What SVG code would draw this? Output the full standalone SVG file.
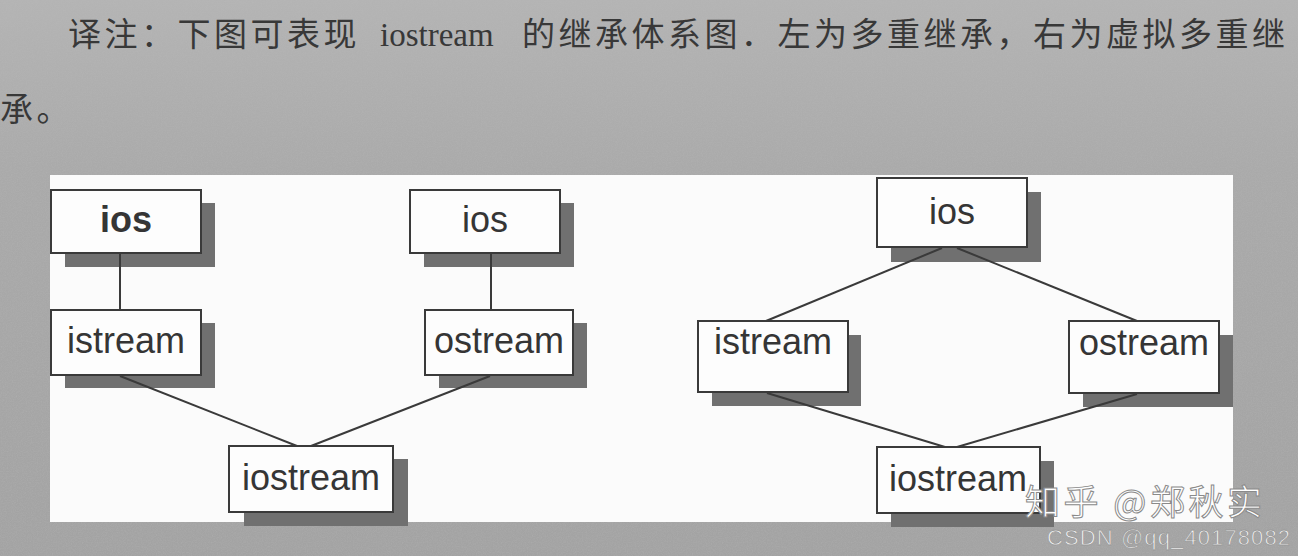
<svg xmlns="http://www.w3.org/2000/svg" width="1298" height="556" viewBox="0 0 1298 556">
  <defs>
    <linearGradient id="bg" x1="0" y1="0" x2="0" y2="1">
      <stop offset="0" stop-color="#b4b4b4"/>
      <stop offset="0.3" stop-color="#aaaaaa"/>
      <stop offset="1" stop-color="#a3a3a3"/>
    </linearGradient>
    <filter id="noise" x="0" y="0" width="100%" height="100%">
      <feTurbulence type="fractalNoise" baseFrequency="0.8" numOctaves="2" seed="7" result="t"/>
      <feColorMatrix type="matrix" values="0 0 0 0 0.5  0 0 0 0 0.5  0 0 0 0 0.5  0.6 0.6 0.6 0 -0.75"/>
    </filter>
    <style>
      .hdr { font-family: "Noto Sans CJK SC", "Noto Sans", sans-serif; font-size: 33px; fill: #383838; letter-spacing: 3.5px; }
      .hdrlat { font-family: "Liberation Serif", "Noto Sans CJK SC", serif; font-size: 33px; fill: #383838; }
      .shadow { fill: #707070; }
      .box { fill: #fdfdfd; stroke: #3a3a3a; stroke-width: 2; }
      .lbl { font-family: "Liberation Sans", Arial, sans-serif; font-size: 36px; fill: #353535; text-anchor: middle; }
      .edge { stroke: #3a3a3a; stroke-width: 2; fill: none; }
      .wm { font-family: "Noto Sans CJK SC", "Liberation Sans", sans-serif; font-size: 35px; fill: #ffffff; stroke: #8a8a8a; stroke-width: 1; }
      .wm2 { font-family: "Liberation Sans", Arial, sans-serif; font-size: 22px; fill: #f4f4f4; stroke: #9a9a9a; stroke-width: 0.8; }
    </style>
  </defs>

  <rect x="0" y="0" width="1298" height="556" fill="url(#bg)"/>
  <rect x="0" y="0" width="1298" height="556" filter="url(#noise)" opacity="0.5"/>

  <g id="header">
    <text class="hdr" x="68" y="46">译注：下图可表现</text>
    <text class="hdrlat" x="380" y="46">iostream</text>
    <text class="hdr" x="522" y="46">的继承体系图．左为多重继承，右为虚拟多重继</text>
    <text class="hdr" x="0" y="121">承。</text>
  </g>

  <rect id="panel" x="50" y="175" width="1183" height="347" fill="#fbfbfb"/>

  <g id="ios-left">
    <rect class="shadow" x="65" y="203" width="150" height="64"/>
    <rect class="box" x="51" y="190" width="150" height="63"/>
    <text class="lbl" x="126" y="232" font-weight="bold">ios</text>
  </g>
  <g id="istream-left">
    <rect class="shadow" x="65" y="323" width="150" height="65"/>
    <rect class="box" x="51" y="310" width="150" height="65"/>
    <text class="lbl" x="126" y="353">istream</text>
  </g>
  <g id="ios-left2">
    <rect class="shadow" x="424" y="203" width="150" height="64"/>
    <rect class="box" x="410" y="190" width="150" height="63"/>
    <text class="lbl" x="485" y="232">ios</text>
  </g>
  <g id="ostream-left">
    <rect class="shadow" x="439" y="323" width="148" height="65"/>
    <rect class="box" x="425" y="310" width="148" height="65"/>
    <text class="lbl" x="499" y="353">ostream</text>
  </g>
  <g id="iostream-left">
    <rect class="shadow" x="244" y="459" width="164" height="67"/>
    <rect class="box" x="229" y="446" width="164" height="66"/>
    <text class="lbl" x="311" y="490">iostream</text>
  </g>

  <g id="ios-right">
    <rect class="shadow" x="891" y="192" width="150" height="70"/>
    <rect class="box" x="877" y="178" width="150" height="69"/>
    <text class="lbl" x="952" y="224">ios</text>
  </g>
  <g id="istream-right">
    <rect class="shadow" x="712" y="335" width="149" height="71"/>
    <rect class="box" x="698" y="321" width="150" height="71"/>
    <text class="lbl" x="773" y="354">istream</text>
  </g>
  <g id="ostream-right">
    <rect class="shadow" x="1083" y="335" width="150" height="72"/>
    <rect class="box" x="1069" y="321" width="150" height="72"/>
    <text class="lbl" x="1144" y="355">ostream</text>
  </g>
  <g id="iostream-right">
    <rect class="shadow" x="891" y="461" width="163" height="66"/>
    <rect class="box" x="877" y="447" width="163" height="66"/>
    <text class="lbl" x="958" y="491">iostream</text>
  </g>

  <g id="connectors">
    <line class="edge" x1="120" y1="254" x2="120" y2="309"/>
    <line class="edge" x1="491" y1="254" x2="491" y2="309"/>
    <line class="edge" x1="120" y1="376" x2="297" y2="446"/>
    <line class="edge" x1="490" y1="376" x2="311" y2="446"/>
    <line class="edge" x1="942" y1="248" x2="766" y2="321"/>
    <line class="edge" x1="957" y1="248" x2="1137" y2="321"/>
    <line class="edge" x1="767" y1="393" x2="945" y2="447"/>
    <line class="edge" x1="1137" y1="394" x2="957" y2="447"/>
  </g>

  <g id="watermark">
    <text class="wm" x="1025" y="515" textLength="237" lengthAdjust="spacing">知乎 @郑秋实</text>
    <text class="wm2" x="1047" y="545" textLength="243" lengthAdjust="spacing">CSDN @qq_40178082</text>
  </g>
</svg>
